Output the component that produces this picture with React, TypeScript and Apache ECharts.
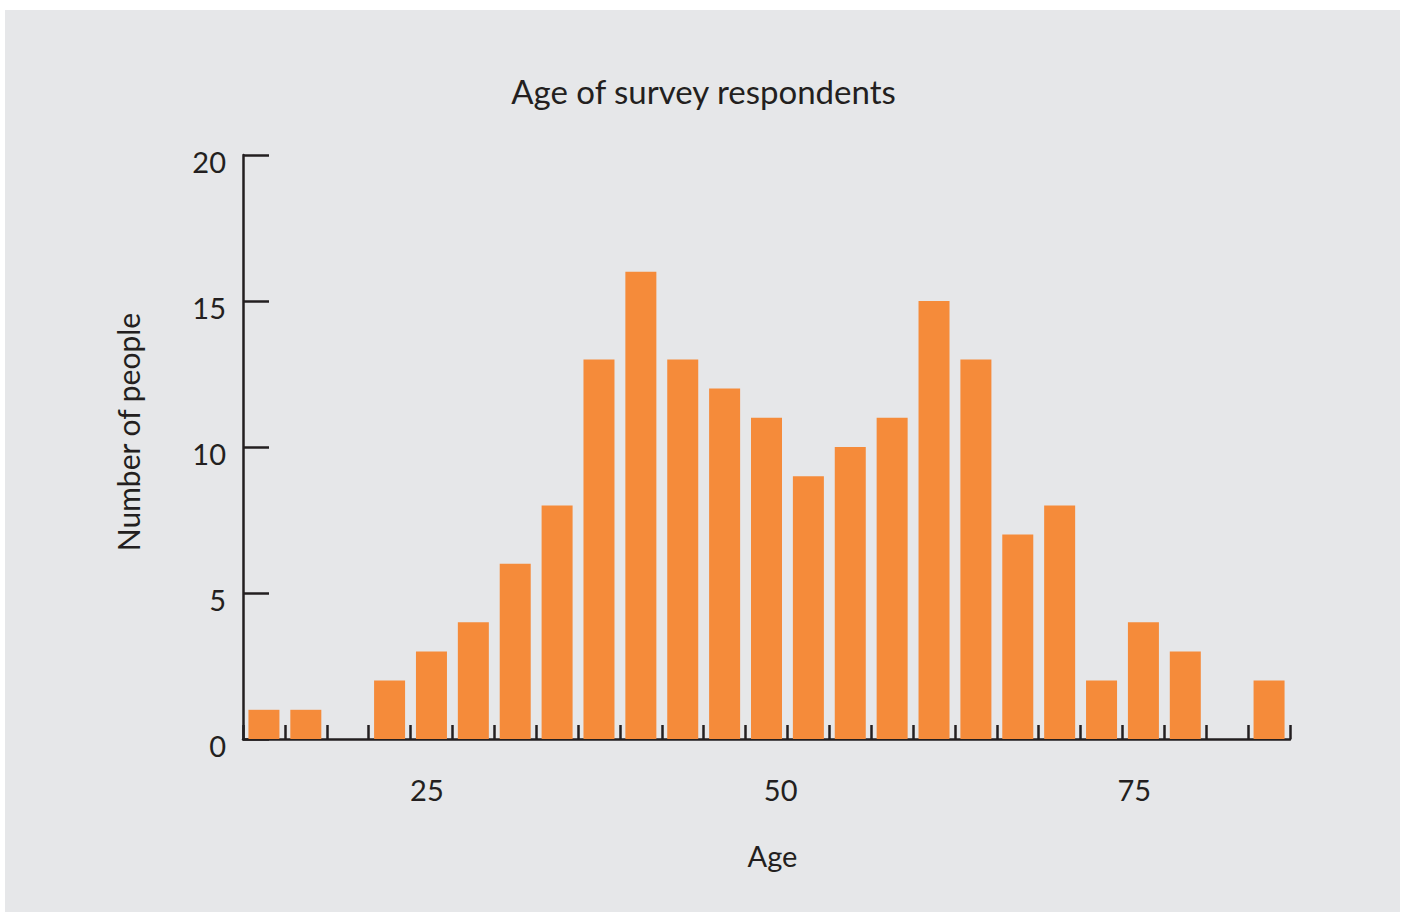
import React, { useEffect, useRef } from "react";
import * as echarts from "echarts";

// Histogram counts for 25 equal-width age bins
const counts = [1, 1, 0, 2, 3, 4, 6, 8, 13, 16, 13, 12, 11, 9, 10, 11, 15, 13, 7, 8, 2, 4, 3, 0, 2];
const ageMin = 12;
const ageMax = 86;
const xLabelValues = [25, 50, 75];
const yMax = 20;
const yInterval = 5;
const titleText = "Age of survey respondents";
const xName = "Age";
const yName = "Number of people";

const FONT = "Lato, 'Noto Sans', sans-serif";
const TEXT = "#231F20";
const ORANGE = "#F58B3A";
const PANEL = "#E6E7E9";

export default function App() {
  const ref = useRef<HTMLDivElement>(null);
  useEffect(() => {
    document.body.style.margin = "0";
    if (!ref.current) return;
    const chart = echarts.init(ref.current, null, { renderer: "svg" });
    const bw = (ageMax - ageMin) / counts.length;
    const edges = counts.map((_, i) => ageMin + i * bw).concat([ageMax]);
    const barData = counts.map((c, i) => [ageMin + (i + 0.5) * bw, c]);
    chart.setOption({
      animation: false,
      backgroundColor: "#ffffff",
      textStyle: { fontFamily: FONT, color: TEXT },
      title: {
        text: titleText,
        left: "center",
        top: 69,
        textStyle: { fontFamily: FONT, fontSize: 33, fontWeight: "normal", color: TEXT },
      },
      graphic: [
        {
          type: "rect",
          z: -10,
          silent: true,
          shape: { x: 5, y: 10, width: 1395, height: 902 },
          style: { fill: PANEL },
        },
        {
          type: "text",
          x: 128,
          y: 432,
          rotation: Math.PI / 2,
          style: {
            text: yName,
            fontFamily: FONT,
            fontSize: 30,
            fill: TEXT,
            align: "center",
            verticalAlign: "middle",
          },
        },
      ],
      grid: { left: 243, right: 117, top: 155, bottom: 176 },
      xAxis: {
        type: "value",
        min: ageMin,
        max: ageMax,
        name: xName,
        nameLocation: "middle",
        nameGap: 102,
        nameTextStyle: { fontFamily: FONT, fontSize: 29, color: TEXT, padding: [0, 0, 0, 12] },
        splitLine: { show: false },
        axisLine: { show: true, lineStyle: { color: TEXT, width: 2.5 } },
        axisTick: {
          show: true,
          inside: true,
          length: 14,
          customValues: edges,
          lineStyle: { color: TEXT, width: 2.5 },
        },
        axisLabel: {
          customValues: xLabelValues,
          margin: 36,
          fontSize: 29,
          fontFamily: FONT,
          color: TEXT,
        },
      },
      yAxis: {
        type: "value",
        min: 0,
        max: yMax,
        interval: yInterval,
        splitLine: { show: false },
        axisLine: { show: true, lineStyle: { color: TEXT, width: 2.5 } },
        axisTick: { show: true, inside: true, length: 26, lineStyle: { color: TEXT, width: 2.5 } },
        axisLabel: {
          margin: 17,
          fontSize: 29,
          fontFamily: FONT,
          color: TEXT,
          verticalAlign: "top",
          lineHeight: 12,
        },
      },
      series: [
        {
          type: "bar",
          data: barData,
          barWidth: 31,
          itemStyle: { color: ORANGE },
          z: 1,
        },
      ],
    });
    return () => chart.dispose();
  }, []);
  return <div ref={ref} style={{ width: 1407, height: 915 }} />;
}
